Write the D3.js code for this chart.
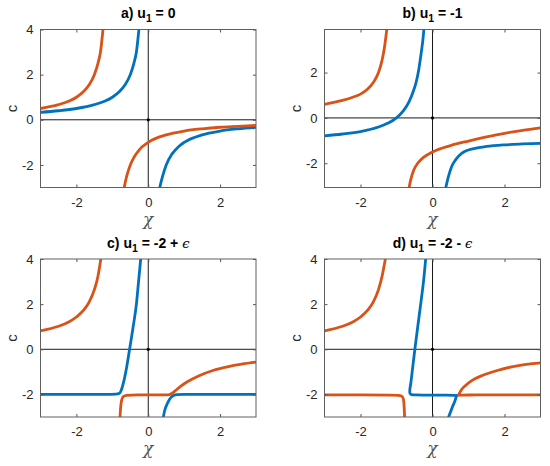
<!DOCTYPE html>
<html><head><meta charset="utf-8">
<script src="https://cdn.jsdelivr.net/npm/d3@7"></script>
<style>body{margin:0;background:#fff}svg{display:block}</style>
</head><body>
<svg id="chart" width="550" height="466"></svg>
<script>
// ---------- data ----------
const xTicks = [-2, 0, 2];
const yTicksFull = [-2, 0, 2, 4];
const yTicksB = [-2, 0, 2];
const xDomain = [-3, 3];
const yDomainA = [-3, 4];
const yDomainB = [-3.07, 3.9];
const yDomainC = [-3, 4];
const yDomainD = [-3, 4];
const titleHead = ["a) u", "b) u", "c) u", "d) u"];
const titleSub = ["1", "1", "1", "1"];
const titleTail = [" = 0", " = -1", " = -2 + ", " = -2 - "];
const titleEps = ["", "", "\u03F5", "\u03F5"];
const xLabel = "\u03C7";
const yLabel = "c";

// panel a (u1 = 0)
const aBlue1 = [[-3,0.33],[-2.5,0.4],[-2,0.5],[-1.5,0.67],[-1.2,0.83],[-1,1.0],[-0.8,1.25],[-0.65,1.54],[-0.5,2.0],[-0.4,2.5],[-0.33,3.0],[-0.26,4.0]];
const aBlue2 = [[0.32,-3],[0.4,-2.5],[0.5,-2],[0.67,-1.5],[0.85,-1.18],[1,-1],[1.5,-0.67],[2,-0.5],[2.5,-0.4],[3,-0.33]];
const aOrange1 = [[-3,0.5],[-2.5,0.67],[-2.2,0.83],[-2,1.0],[-1.8,1.25],[-1.65,1.54],[-1.5,2.0],[-1.4,2.5],[-1.33,3.0],[-1.26,4.0]];
const aOrange2 = [[-0.67,-3],[-0.6,-2.5],[-0.5,-2.0],[-0.4,-1.67],[-0.25,-1.33],[0,-1.0],[0.5,-0.67],[1,-0.5],[1.5,-0.4],[2,-0.33],[2.5,-0.29],[3,-0.25]];

// panel b (u1 = -1)
const bBlue1 = [[-3,-0.79],[-2.5,-0.71],[-2,-0.6],[-1.5,-0.4],[-1.25,-0.24],[-1,0],[-0.8,0.33],[-0.65,0.72],[-0.55,1.1],[-0.45,1.6],[-0.38,2.15],[-0.32,2.8],[-0.27,3.4],[-0.24,3.9]];
const bBlue2 = [[0.37,-3.07],[0.44,-2.6],[0.53,-2.15],[0.65,-1.83],[0.81,-1.56],[1.18,-1.34],[1.5,-1.26],[2,-1.19],[2.5,-1.15],[3,-1.12]];
const bOrange1 = [[-3,0.6],[-2.5,0.77],[-2.2,0.92],[-2,1.05],[-1.8,1.27],[-1.65,1.55],[-1.5,2.0],[-1.4,2.55],[-1.33,3.15],[-1.27,3.9]];
const bOrange2 = [[-0.65,-3.07],[-0.6,-2.7],[-0.52,-2.3],[-0.4,-1.98],[-0.25,-1.74],[0,-1.5],[0.5,-1.22],[1,-1.02],[1.5,-0.84],[2,-0.68],[2.5,-0.55],[3,-0.44]];

// panel c (u1 = -2 + eps)
const cBlue1 = [[-3,-2],[-2,-2],[-1.2,-2],[-0.9,-1.99],[-0.8,-1.95],[-0.76,-1.85],[-0.69,-1.48],[-0.6,-0.78],[-0.52,0],[-0.42,1.0],[-0.33,2.0],[-0.27,3.0],[-0.21,4.0]];
const cBlue2 = [[0.42,-3.0],[0.46,-2.7],[0.51,-2.48],[0.57,-2.28],[0.63,-2.14],[0.7,-2.05],[0.8,-2.01],[1,-2],[2,-2],[3,-2]];
const cOrange1 = [[-3,0.82],[-2.5,1.02],[-2.2,1.22],[-2,1.43],[-1.8,1.73],[-1.65,2.08],[-1.5,2.64],[-1.4,3.24],[-1.32,4.0]];
const cOrange2 = [[-0.785,-3.0],[-0.77,-2.6],[-0.74,-2.25],[-0.69,-2.09],[-0.6,-2.04],[-0.3,-2.02],[0,-2.02],[0.3,-2.02],[0.55,-2.02],[0.65,-1.96],[0.75,-1.84],[0.9,-1.64],[1.1,-1.43],[1.4,-1.18],[1.8,-0.94],[2.2,-0.78],[2.6,-0.66],[3,-0.57]];

// panel d (u1 = -2 - eps)
const dBlue1 = [[-0.19,4.0],[-0.25,3.0],[-0.32,2.1],[-0.41,1.0],[-0.49,0],[-0.55,-0.8],[-0.6,-1.47],[-0.63,-1.8],[-0.625,-1.95],[-0.58,-2.01],[-0.45,-2.02],[0,-2.03],[0.4,-2.03],[0.6,-2.04],[0.67,-2.05]];
const dBlue2 = [[0.44,-3.03],[0.5,-2.78],[0.56,-2.52],[0.62,-2.3],[0.67,-2.05]];
const dOrange1 = [[-3,0.82],[-2.5,1.02],[-2.2,1.22],[-2,1.43],[-1.8,1.73],[-1.65,2.08],[-1.5,2.64],[-1.4,3.24],[-1.31,4.0]];
const dOrange2 = [[-3,-2.02],[-2,-2.02],[-1.2,-2.03],[-0.95,-2.04],[-0.86,-2.07],[-0.81,-2.2],[-0.79,-2.5],[-0.78,-2.8],[-0.775,-3.0]];
const dOrange3 = [[0.72,-2.03],[0.8,-1.8],[0.92,-1.6],[1.1,-1.38],[1.4,-1.15],[1.8,-0.94],[2.2,-0.78],[2.6,-0.67],[3.0,-0.6]];
const dOrange4 = [[0.72,-2.03],[0.85,-2.03],[1.2,-2.02],[2,-2.02],[3,-2.02]];

// ---------- layout / style ----------
const BLUE = "#0072BD", ORANGE = "#D95319";
const panels = [
  {box:{l:40.5,r:256,t:29.5,b:187.5}, yDom:yDomainA, yTicks:yTicksFull, blue:[aBlue1,aBlue2], orange:[aOrange1,aOrange2]},
  {box:{l:324.5,r:540.5,t:29.5,b:187.5}, yDom:yDomainB, yTicks:yTicksB, blue:[bBlue1,bBlue2], orange:[bOrange1,bOrange2]},
  {box:{l:40.5,r:256,t:259,b:417}, yDom:yDomainC, yTicks:yTicksFull, blue:[cBlue1,cBlue2], orange:[cOrange1,cOrange2]},
  {box:{l:324.5,r:540.5,t:259,b:417}, yDom:yDomainD, yTicks:yTicksFull, blue:[dBlue1,dBlue2], orange:[dOrange1,dOrange2,dOrange3,dOrange4]}
];

const svg = d3.select("#chart");
const font = "Arial, 'Liberation Sans', Helvetica, sans-serif";

function isMonotoneX(s) {
  let inc = true, dec = true;
  for (let k = 1; k < s.length; k++) {
    if (s[k][0] <= s[k-1][0]) inc = false;
    if (s[k][0] >= s[k-1][0]) dec = false;
  }
  return inc || dec;
}

panels.forEach((p, i) => {
  const {l, r, t, b} = p.box;
  const x = d3.scaleLinear().domain(xDomain).range([l, r]);
  const y = d3.scaleLinear().domain(p.yDom).range([b, t]);
  const g = svg.append("g");

  const clipId = "clip" + i;
  svg.append("clipPath").attr("id", clipId).append("rect")
    .attr("x", l).attr("y", t).attr("width", r - l).attr("height", b - t);

  // zero lines
  g.append("line").attr("x1", x(0)).attr("x2", x(0)).attr("y1", t).attr("y2", b)
    .attr("stroke", "#1a1a1a").attr("stroke-width", 1);
  g.append("line").attr("x1", l).attr("x2", r).attr("y1", y(0)).attr("y2", y(0))
    .attr("stroke", "#1a1a1a").attr("stroke-width", 1);

  // curves
  const draw = (s, color) => {
    let pts = s, curve;
    if (isMonotoneX(s)) {
      pts = s[0][0] < s[s.length-1][0] ? s : s.slice().reverse();
      curve = d3.curveMonotoneX;
    } else {
      curve = d3.curveCatmullRom.alpha(0.5);
    }
    const line = d3.line().x(d => x(d[0])).y(d => y(d[1])).curve(curve);
    cg.append("path").attr("d", line(pts)).attr("fill", "none")
      .attr("stroke", color).attr("stroke-width", 2.8)
      .attr("stroke-linejoin", "round").attr("stroke-linecap", "round");
  };
  const cg = g.append("g").attr("clip-path", `url(#${clipId})`);
  p.blue.forEach(s => draw(s, BLUE));
  p.orange.forEach(s => draw(s, ORANGE));

  // origin dot
  g.append("circle").attr("cx", x(0)).attr("cy", y(0)).attr("r", 1.6).attr("fill", "#000");

  // axes (ticks inside)
  const axColor = "#262626";
  const ax = g.append("g").attr("transform", `translate(0,${b})`)
    .call(d3.axisBottom(x).tickValues(xTicks).tickSize(-3).tickPadding(10).tickFormat(d3.format("d")));
  const ay = g.append("g").attr("transform", `translate(${l},0)`)
    .call(d3.axisLeft(y).tickValues(p.yTicks).tickSize(-3).tickPadding(7).tickFormat(d3.format("d")));
  const axT = g.append("g").attr("transform", `translate(0,${t})`)
    .call(d3.axisTop(x).tickValues(xTicks).tickSize(-3).tickFormat(""));
  const ayR = g.append("g").attr("transform", `translate(${r},0)`)
    .call(d3.axisRight(y).tickValues(p.yTicks).tickSize(-3).tickFormat(""));
  [ax, ay, axT, ayR].forEach(a => {
    a.select(".domain").remove();
    a.selectAll(".tick line").attr("stroke", "#555").attr("stroke-width", 1);
    a.selectAll("text").attr("fill", axColor).style("font-family", font).style("font-size", "13px")
      .text(function(){ return d3.select(this).text().replace("\u2212", "-"); });
  });

  // box
  g.append("rect").attr("x", l).attr("y", t).attr("width", r - l).attr("height", b - t)
    .attr("fill", "none").attr("stroke", "#606060").attr("stroke-width", 1);

  // title
  const tt = g.append("text").attr("x", (l + r) / 2).attr("y", t - 11.5)
    .attr("text-anchor", "middle").style("font-family", font).style("font-size", "14px")
    .style("font-weight", "bold").attr("fill", "#000");
  tt.append("tspan").text(titleHead[i]);
  tt.append("tspan").attr("dy", 4).style("font-size", "10.5px").text(titleSub[i]);
  tt.append("tspan").attr("dy", -4).text(titleTail[i]);
  if (titleEps[i]) tt.append("tspan").style("font-weight", "normal").style("font-style", "italic")
    .style("font-size", "13px").style("font-family", "'DejaVu Serif', 'Liberation Serif', serif").text(titleEps[i]);

  // axis labels
  g.append("text").attr("x", (l + r) / 2).attr("y", b + 37).attr("text-anchor", "middle")
    .style("font-family", "'DejaVu Serif', 'Liberation Serif', serif").style("font-style", "italic")
    .style("font-size", "17px").attr("fill", "#555").text(xLabel);
  g.append("text").attr("transform", `translate(${l - 23.5},${(t + b) / 2}) rotate(-90)`)
    .attr("text-anchor", "middle").style("font-family", font).style("font-size", "15px")
    .attr("fill", "#262626").text(yLabel);
});
</script>
</body></html>
